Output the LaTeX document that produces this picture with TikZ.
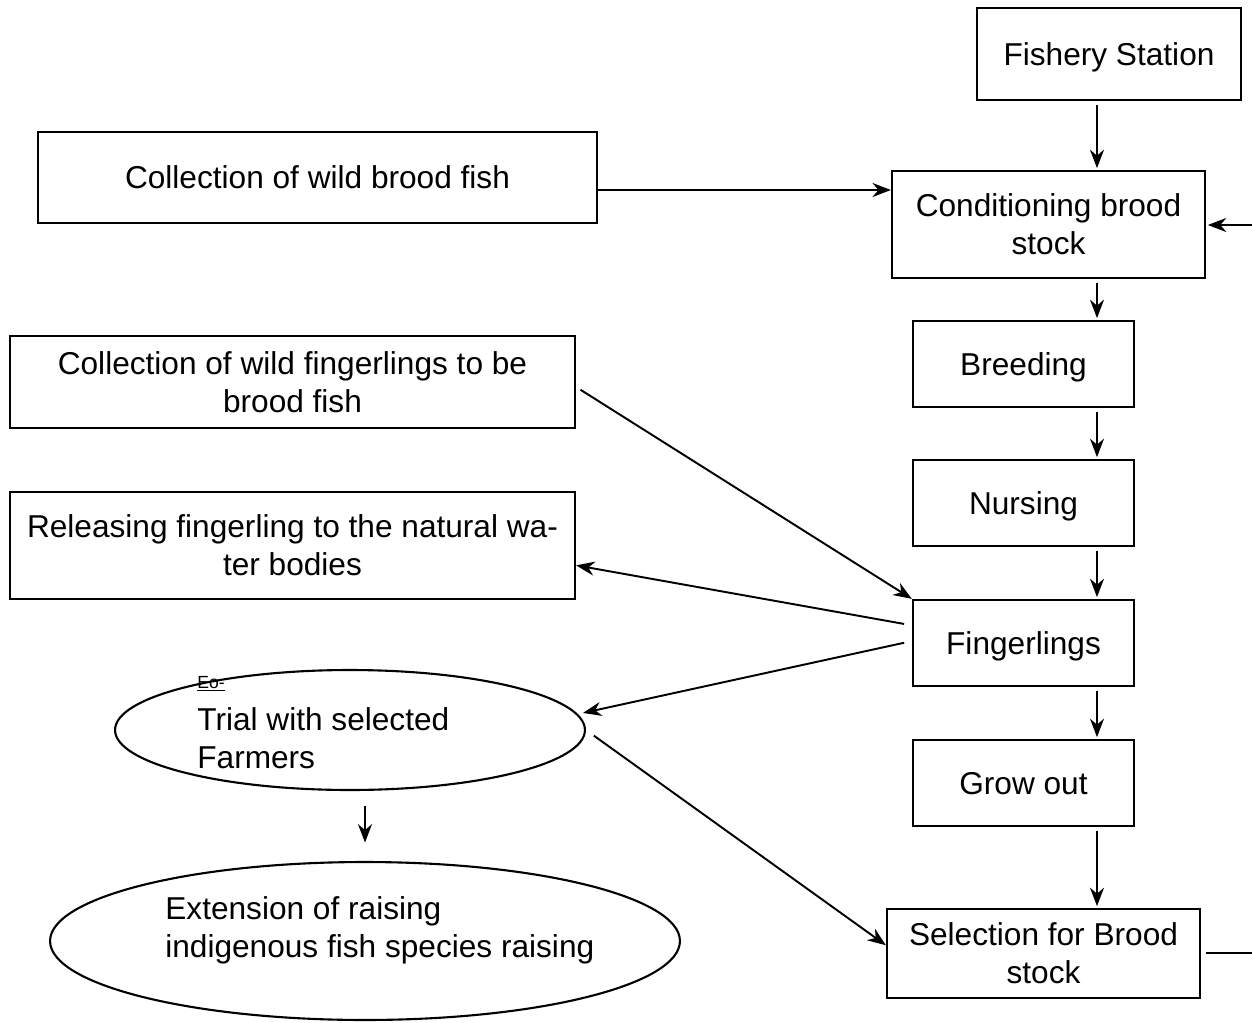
\documentclass[tikz,border=0pt]{standalone}
\usepackage{fontspec}
\setmainfont{Liberation Sans}
\usetikzlibrary{shapes, shapes.geometric, arrows.meta, calc}

\begin{document}
\begin{tikzpicture}[x=0.02cm, y=-0.02cm,
        stepbox/.style={draw=black, line width=1.3pt, rectangle, align=center, inner sep=0pt, text depth=0pt},
        oval/.style={draw=black, line width=1.2pt, ellipse, inner sep=0pt},
        arr/.style={-{Stealth[length=10.5pt, width=8pt]}, line width=1.1pt},
        plain/.style={line width=1.1pt}]
        % Define dimensions
        \def\fullw{1252}
        \def\fullh{1022}
        \useasboundingbox (0,0) rectangle (\fullw,\fullh);
        \fontsize{18}{21.6}\selectfont
        % Main chain on the right
        \node[stepbox, minimum width=5.28cm, minimum height=1.84cm] (station) at (1109,54) {Fishery Station};
        \node[stepbox, minimum width=6.26cm, minimum height=2.14cm] (conditioning) at (1048.5,224.5) {Conditioning brood\\stock};
        \node[stepbox, minimum width=4.42cm, minimum height=1.72cm] (breeding) at (1023.5,364) {Breeding};
        \node[stepbox, minimum width=4.42cm, minimum height=1.72cm] (nursing) at (1023.5,503) {Nursing};
        \node[stepbox, minimum width=4.42cm, minimum height=1.72cm] (fingerlings) at (1023.5,643) {Fingerlings};
        \node[stepbox, minimum width=4.42cm, minimum height=1.72cm] (growout) at (1023.5,783) {Grow out};
        \node[stepbox, minimum width=6.26cm, minimum height=1.78cm] (selection) at (1043.5,953.5) {Selection for Brood\\stock};
        % Boxes on the left
        \node[stepbox, minimum width=11.18cm, minimum height=1.82cm] (wildbrood) at (317.5,177.5) {Collection of wild brood fish};
        \node[stepbox, minimum width=11.3cm, minimum height=1.84cm] (wildfing) at (292.5,382) {Collection of wild fingerlings to be\\brood fish};
        \node[stepbox, minimum width=11.3cm, minimum height=2.14cm] (releasing) at (292.5,545.5) {Releasing fingerling to the natural wa-\\ter bodies};
        % Ovals
        \node[oval, minimum width=9.4cm, minimum height=2.4cm] (trial) at (350,730) {};
        \node[anchor=base west, inner sep=0pt, font=\fontsize{10}{12}\selectfont] (eo) at (197,688) {\underline{Eo-}};
        \node[anchor=north west, inner sep=0pt, align=left] (trialtext) at (197,707) {Trial with selected\\Farmers};
        \node[oval, minimum width=12.6cm, minimum height=3.16cm] (extension) at (365,941) {};
        \node[anchor=north west, inner sep=0pt, align=left] (exttext) at (165,896) {Extension of raising\\indigenous fish species raising};
        % Free ends of the feedback loop
        \coordinate (loopin) at (\fullw,225);
        \coordinate (loopout) at (\fullw,953);
        \coordinate (chainx) at (1097,0);
        % Arrows down the chain
        \foreach \a/\b in {station/conditioning, conditioning/breeding, breeding/nursing, nursing/fingerlings, fingerlings/growout, growout/selection}
            \draw[arr, shorten <=2pt, shorten >=1pt] (\a.south -| chainx) -- (\b.north -| chainx);
        \draw[arr] ([yshift=-0.25cm]wildbrood.east) -- ([yshift=-0.25cm]wildbrood.east -| conditioning.west);
        \draw[arr, shorten >=1pt] (loopin) -- (loopin -| conditioning.east);
        \draw[plain, shorten <=3pt] (loopout -| selection.east) -- (loopout);
        % Diagonal arrows
        \draw[arr, shorten <=3pt] (wildfing.-1) -- (fingerlings.north west);
        \draw[arr, shorten <=4.5pt] (fingerlings.171) -- (releasing.-4.5);
        \draw[arr, shorten <=4.5pt, shorten >=3pt] (fingerlings.179) -- (trial.4);
        \draw[arr, shorten <=5.5pt] (trial.0) -- (selection.177);
        \draw[arr, shorten <=8.5pt, shorten >=10.5pt] (extension.north |- trial.south) -- (extension.north);
    \end{tikzpicture}
\end{document}
